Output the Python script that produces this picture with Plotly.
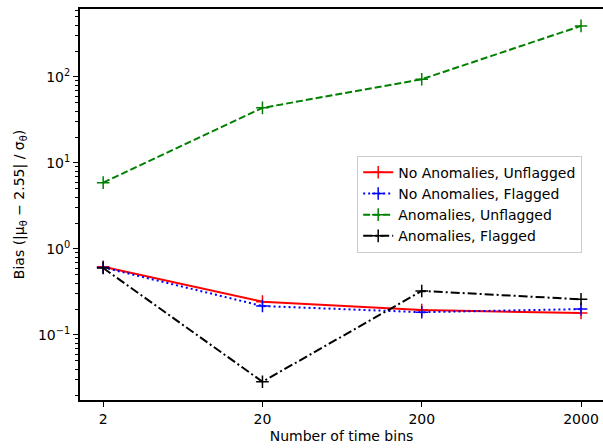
import numpy as np
import plotly.graph_objects as go

# Number of time bins on the x axis
time_bins = [2, 20, 200, 2000]

# Bias for each configuration
no_anom_unflagged = [0.62, 0.244, 0.195, 0.18]
no_anom_flagged = [0.61, 0.217, 0.184, 0.20]
anom_unflagged = [5.9, 43.7, 94.0, 392.0]
anom_flagged = [0.60, 0.0286, 0.325, 0.26]

series_names = [
    "No Anomalies, Unflagged",
    "No Anomalies, Flagged",
    "Anomalies, Unflagged",
    "Anomalies, Flagged",
]

x_tick_vals = [2, 20, 200, 2000]
x_tick_text = ["2", "20", "200", "2000"]
y_tick_vals = [0.1, 1, 10, 100]
y_tick_text = ["10<sup>\u22121</sup>", "10<sup>0</sup>", "10<sup>1</sup>", "10<sup>2</sup>"]

FONT = "DejaVu Sans, Verdana, sans-serif"

styles = [
    dict(color="#ff0000", dash="solid"),
    dict(color="#0000ff", dash="2px,3px"),
    dict(color="#008000", dash="7px,3px"),
    dict(color="#000000", dash="9px,3px,2px,3px"),
]

fig = go.Figure()
for name, vals, st in zip(series_names,
                          [no_anom_unflagged, no_anom_flagged, anom_unflagged, anom_flagged],
                          styles):
    fig.add_trace(go.Scatter(
        x=time_bins, y=vals, name=name, mode="lines+markers",
        line=dict(color=st["color"], width=2, dash=st["dash"]),
        marker=dict(symbol="cross-thin", size=9,
                    line=dict(color=st["color"], width=1.5)),
    ))

# log minor tick positions on the y axis
minor_y = [m * 10.0 ** e for e in range(-2, 3) for m in range(2, 10)]

fig.update_layout(
    width=603, height=448,
    margin=dict(l=80, r=0, t=9, b=48),
    paper_bgcolor="white", plot_bgcolor="white",
    font=dict(family=FONT, size=14, color="#000000"),
    showlegend=True,
    legend=dict(
        x=0.53, y=0.625, xanchor="left", yanchor="top",
        bgcolor="rgba(255,255,255,0.9)", bordercolor="#cccccc", borderwidth=1,
        font=dict(family=FONT, size=14), tracegroupgap=0, itemwidth=30,
    ),
    xaxis=dict(
        type="log", range=[0.1555, 3.439],
        tickmode="array", tickvals=x_tick_vals, ticktext=x_tick_text,
        ticks="outside", ticklen=5, tickwidth=1.2, tickcolor="black",
        showline=True, linecolor="black", linewidth=2, mirror=True,
        showgrid=False, zeroline=False,
        title=dict(text="Number of time bins", font=dict(size=14), standoff=5),
        tickfont=dict(size=14),
    ),
    yaxis=dict(
        type="log", range=[-1.756, 2.79],
        tickmode="array", tickvals=y_tick_vals, ticktext=y_tick_text,
        ticks="outside", ticklen=5, tickwidth=1.2, tickcolor="black",
        minor=dict(tickmode="array", tickvals=minor_y, ticks="outside",
                   ticklen=3, tickwidth=1, tickcolor="black", showgrid=False),
        showline=True, linecolor="black", linewidth=2, mirror=False,
        showgrid=False, zeroline=False,
        title=dict(text="Bias (|\u03bc<sub>\u03b8</sub> \u2212 2.55| / \u03c3<sub>\u03b8</sub>)",
                   font=dict(size=14), standoff=10),
        tickfont=dict(size=14),
    ),
)

fig.write_html("out.html")
